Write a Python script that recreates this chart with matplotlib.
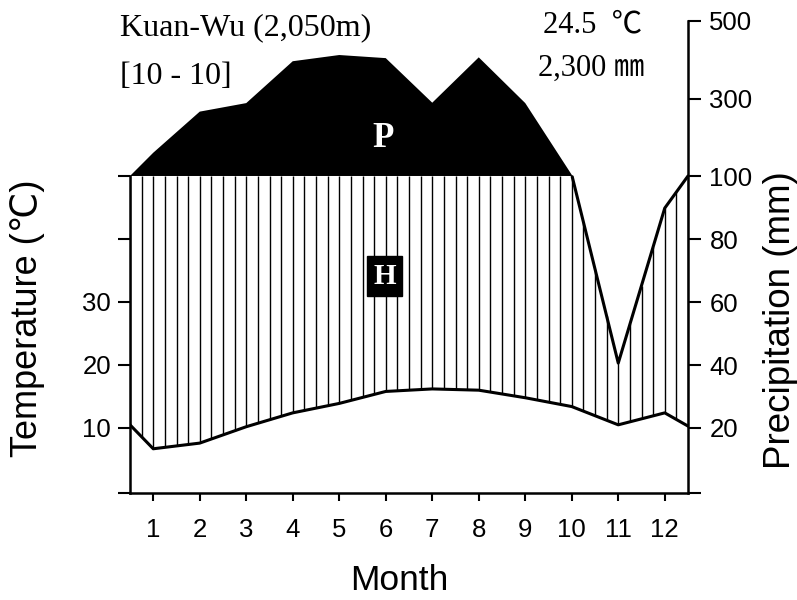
import numpy as np
import matplotlib
matplotlib.use("Agg")
import matplotlib.pyplot as plt

# ---------------- data ----------------
months = list(range(1, 13))
month_labels = [str(m) for m in months]
temp_c = [6.7, 7.6, 10.2, 12.4, 13.9, 15.8, 16.2, 16.0, 14.8, 13.4, 10.5, 12.4]
precip_mm = [160, 266, 288, 396, 412, 404, 289, 406, 288, 103, 40.6, 89.8]
temp_edges = [10.5, 10.3]      # values drawn at the left / right plot edges
precip_edges = [100, 100]
temp_tick_values = [10, 20, 30]
precip_tick_values = [20, 40, 60, 80, 100, 300, 500]

station = "Kuan-Wu (2,050m)"
period = "[10 - 10]"
mean_temp = "24.5  ℃"
annual_precip = "2,300 ㎜"

SERIF = ["Liberation Serif", "Noto Sans CJK KR", "DejaVu Serif"]
SANS = ["Liberation Sans", "DejaVu Sans"]


def p_scale(p):
    """Walter-Lieth precipitation scale: 2 mm per degC up to 100 mm, compressed above."""
    p = np.asarray(p, float)
    return np.where(p <= 100, p / 2.0, 50 + (p - 100) / 16.25)


W, H = 797, 600
fig = plt.figure(figsize=(W / 100, H / 100), dpi=100)
ax = fig.add_axes([130 / W, 107 / H, (688 - 130) / W, 472 / H])

ymin, ymax = -0.32, 74.6
x = np.concatenate([[0.5], months, [12.5]])
t = np.concatenate([[temp_edges[0]], temp_c, [temp_edges[1]]])
p = p_scale(np.concatenate([[precip_edges[0]], precip_mm, [precip_edges[1]]]))

xf = np.linspace(0.5, 12.5, 2401)
pf = np.interp(xf, x, p)

# perhumid (black) area above 100 mm
ax.fill_between(xf, 50, pf, where=pf >= 50, color="black", lw=0, interpolate=True, zorder=2)

# humid period hatching (vertical lines)
xh = np.arange(0.5, 12.5 + 1e-9, 0.25)
th = np.interp(xh, x, t)
ph = np.minimum(np.interp(xh, x, p), 50)
m = ph > th
ax.vlines(xh[m], th[m], ph[m], color="black", lw=1.0, zorder=2)

# precipitation line below 100 mm
pl = np.where(pf > 50.02, np.nan, pf)
ax.plot(xf, pl, color="black", lw=2.2, zorder=3, solid_capstyle="round")
# temperature line
ax.plot(x, t, color="black", lw=2.2, zorder=3)

ax.text(5.95, 56, "P", color="white", fontsize=25, fontweight="bold",
        family=SERIF, ha="center", va="center", zorder=4)
ax.text(5.97, 34.1, "H", color="white", fontsize=21, fontweight="bold",
        family=SERIF, ha="center", va="center", zorder=4,
        bbox=dict(boxstyle="square,pad=0.22", fc="black", ec="black"))

ax.set_xlim(0.5, 12.5)
ax.set_ylim(ymin, ymax)
for s in ["top", "right"]:
    ax.spines[s].set_visible(False)
ax.spines["left"].set_bounds(ymin, 50)
for s in ["left", "bottom"]:
    ax.spines[s].set_linewidth(1.8)

ax.set_yticks([ymin, 10, 20, 30, 40, 50])
ax.set_yticklabels(["", *[str(v) for v in temp_tick_values], "", ""], family=SANS)
ax.tick_params(axis="y", direction="out", length=8.6, width=1.5, pad=5, labelsize=18.5)
ax.set_xticks(months)
ax.set_xticklabels(month_labels, family=SANS)
ax.tick_params(axis="x", direction="out", length=6, width=1.5, pad=12, labelsize=18.5)

ax2 = ax.twinx()
ax2.set_position(ax.get_position())
ax2.set_ylim(ymin, ymax)
for s in ["top", "left", "bottom"]:
    ax2.spines[s].set_visible(False)
ax2.spines["right"].set_linewidth(1.8)
ax2.set_yticks([ymin, *p_scale(precip_tick_values)])
ax2.set_yticklabels(["", *[str(v) for v in precip_tick_values]], family=SANS)
ax2.tick_params(axis="y", direction="out", length=9.4, width=1.5, pad=6, labelsize=18.5)

fig.text(28 / W, 1 - 318 / H, "Temperature (℃)", rotation=90, ha="center", va="center",
         fontsize=26, family=SANS)
fig.text(781 / W, 1 - 320 / H, "Precipitation (mm)", rotation=90, ha="center", va="center",
         fontsize=26.5, family=SANS)
fig.text(399 / W, 1 - 580 / H, "Month", ha="center", va="center", fontsize=25.5, family=SANS)

fig.text(120 / W, 1 - 28 / H, station, ha="left", va="center", fontsize=23, family=SERIF)
fig.text(120 / W, 1 - 77 / H, period, ha="left", va="center", fontsize=23, family=SERIF)
fig.text(543 / W, 1 - 25 / H, mean_temp, ha="left", va="center", fontsize=22, family=SERIF)
fig.text(538 / W, 1 - 68 / H, annual_precip, ha="left", va="center", fontsize=22, family=SERIF)

fig.savefig("out.png", dpi=100)
